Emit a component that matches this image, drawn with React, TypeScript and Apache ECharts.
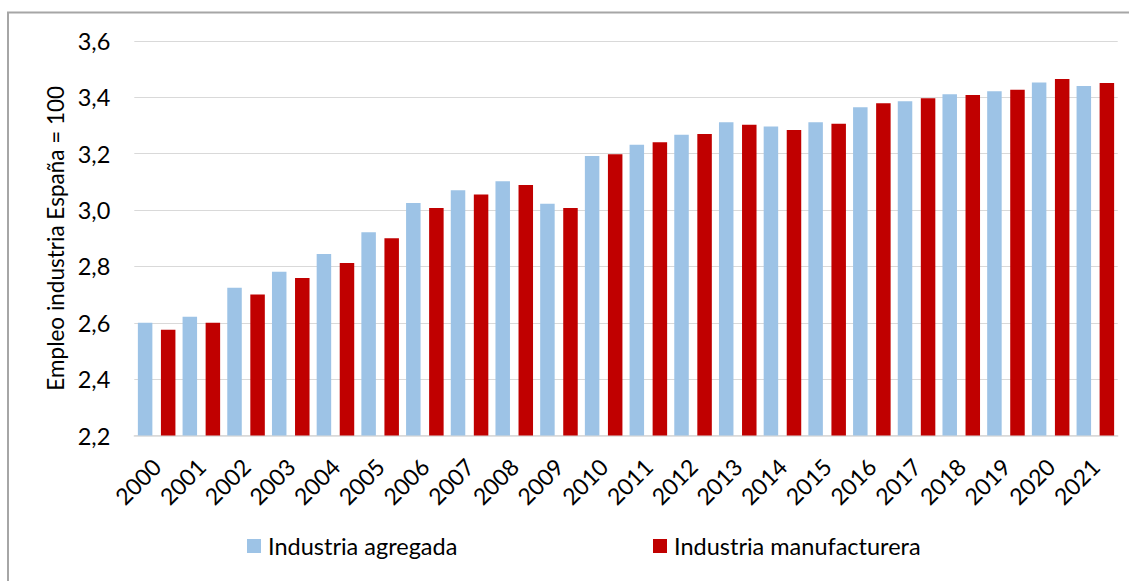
import React, { useEffect, useRef } from "react";
import * as echarts from "echarts";

const years = ["2000","2001","2002","2003","2004","2005","2006","2007","2008","2009","2010","2011","2012","2013","2014","2015","2016","2017","2018","2019","2020","2021"];
const agregada = [2.60, 2.621, 2.724, 2.781, 2.844, 2.921, 3.025, 3.07, 3.102, 3.022, 3.192, 3.232, 3.267, 3.312, 3.297, 3.312, 3.365, 3.386, 3.411, 3.422, 3.453, 3.44];
const manufacturera = [2.575, 2.60, 2.70, 2.759, 2.812, 2.90, 3.007, 3.055, 3.089, 3.007, 3.198, 3.241, 3.27, 3.303, 3.284, 3.306, 3.379, 3.397, 3.408, 3.427, 3.465, 3.451];
const yTicks = { min: 2.2, max: 3.6, interval: 0.2 };
const seriesNames = ["Industria agregada", "Industria manufacturera"];
const FONT = "Lato";

export default function App() {
  const ref = useRef<HTMLDivElement>(null);
  useEffect(() => {
    if (!ref.current) return;
    const chart = echarts.init(ref.current, null, { renderer: "svg" });
    const legendText = { fontFamily: FONT, fontSize: 23.5, color: "#000", padding: [0, 0, 0, 2] };
    chart.setOption({
      animation: false,
      backgroundColor: "#ffffff",
      textStyle: { fontFamily: FONT },
      graphic: [
        {
          type: "rect",
          shape: { x: 8, y: 12.5, width: 1300, height: 700 },
          style: { fill: "none", stroke: "#A6A6A6", lineWidth: 2 },
          silent: true,
        },
      ],
      grid: { left: 134.3, right: 11.3, top: 41, bottom: 145.5, containLabel: false },
      legend: [
        {
          data: [seriesNames[0]],
          left: 242,
          top: 529,
          itemWidth: 14,
          itemHeight: 14,
          icon: "rect",
          itemGap: 0,
          textStyle: legendText,
        },
        {
          data: [seriesNames[1]],
          left: 648,
          top: 529,
          itemWidth: 14,
          itemHeight: 14,
          icon: "rect",
          itemGap: 0,
          textStyle: legendText,
        },
      ],
      xAxis: {
        type: "category",
        data: years,
        axisLine: { lineStyle: { color: "#D9D9D9", width: 1.5 } },
        axisTick: { show: false },
        axisLabel: {
          rotate: 45,
          interval: 0,
          margin: 27,
          fontFamily: FONT,
          fontSize: 23,
          color: "#000",
        },
      },
      yAxis: {
        type: "value",
        min: yTicks.min,
        max: yTicks.max,
        interval: yTicks.interval,
        name: "Empleo industria España = 100",
        nameLocation: "middle",
        nameGap: 67,
        nameTextStyle: { fontFamily: FONT, fontSize: 22.5, color: "#000" },
        axisLine: { show: false },
        axisTick: { show: false },
        splitLine: { lineStyle: { color: "#D9D9D9", width: 1.2 } },
        axisLabel: {
          margin: 24,
          fontFamily: FONT,
          fontSize: 23.5,
          color: "#000",
          formatter: (v: number) => v.toFixed(1).replace(".", ","),
        },
      },
      series: [
        {
          name: seriesNames[0],
          type: "bar",
          data: agregada,
          barWidth: 14.5,
          barGap: "59%",
          itemStyle: { color: "#9DC3E6" },
        },
        {
          name: seriesNames[1],
          type: "bar",
          data: manufacturera,
          barWidth: 14.5,
          barGap: "59%",
          itemStyle: { color: "#C00000" },
        },
      ],
    });
    return () => chart.dispose();
  }, []);
  return (
    <div
      ref={ref}
      style={{ position: "fixed", left: 0, top: 0, width: 1129, height: 581 }}
    />
  );
}
